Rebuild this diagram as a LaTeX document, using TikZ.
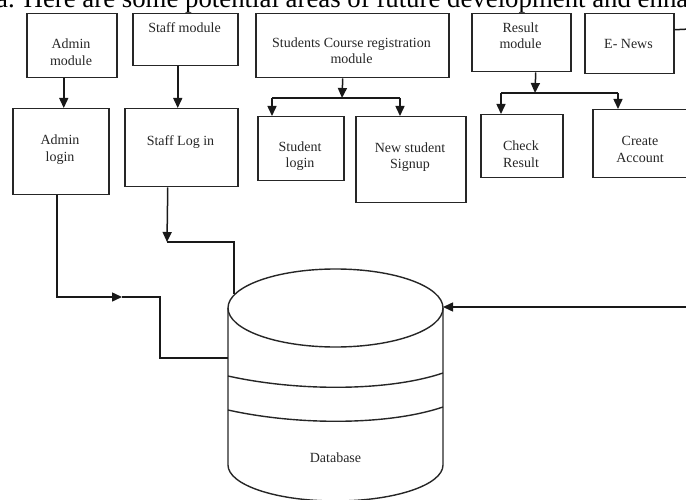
\documentclass[tikz,border=0pt]{standalone}
\usepackage{fontspec}
\setmainfont{Liberation Serif}
\usetikzlibrary{arrows.meta,calc}
\begin{document}
\begin{tikzpicture}[x=1pt,y=-1pt,
  box/.style={draw=black!85, line width=1.5pt, inner sep=0pt, anchor=north west},
  lbl/.style={font=\fontsize{14}{16.5}\selectfont, align=center, text=black!85, inner sep=0pt},
  conn/.style={draw=black!90, line width=1.5pt},
  arr/.style={conn, -{Triangle[width=9pt,length=10pt]}},
  cyl/.style={draw=black!85, line width=1.4pt},
]
\path[use as bounding box] (0,0) rectangle (686,500);
\clip (0,0) rectangle (686,500);

% cut-off line of page text at the top
\node[anchor=base west, font=\fontsize{26.8}{30}\selectfont, inner sep=0pt, text=black] (hdr) at (-4,8) {a. Here are some potential areas of future development and enha};

% top row boxes
\node[box, minimum width=90pt,  minimum height=64pt] (am)  at (26,13)  {};
\node[box, minimum width=105pt, minimum height=52pt] (sm)  at (132,13) {};
\node[box, minimum width=193pt, minimum height=64pt] (scm) at (255,13) {};
\node[box, minimum width=99pt,  minimum height=58pt] (rm)  at (471,13) {};
\node[box, minimum width=89pt,  minimum height=60pt] (en)  at (584,13) {};
% second row boxes
\node[box, minimum width=96pt,  minimum height=86pt] (al)  at (12,108)  {};
\node[box, minimum width=113pt, minimum height=78pt] (sl)  at (124,108) {};
\node[box, minimum width=86pt,  minimum height=64pt] (stl) at (257,116) {};
\node[box, minimum width=110pt, minimum height=86pt] (ns)  at (355,116) {};
\node[box, minimum width=82pt,  minimum height=63pt] (cr)  at (480,114) {};
\node[box, minimum width=98pt,  minimum height=68pt] (ca)  at (592,109) {};

% texts
\node[lbl] (amt)  at (71,52)    {Admin\\module};
\node[lbl] (smt)  at (184.5,27.5) {Staff module};
\node[lbl] (scmt) at (351.5,50.5) {Students Course registration\\module};
\node[lbl] (rmt)  at (520.5,35.5) {Result\\module};
\node[lbl] (ent)  at (628.5,43.5) {E- News};
\node[lbl] (alt)  at (60,149.5) {Admin\\login};
\node[lbl] (slt)  at (180.5,142.5) {Staff Log in};
\node[lbl] (stlt) at (300,156) {Student\\login};
\node[lbl] (nst)  at (410,157) {New student\\Signup};
\node[lbl] (crt)  at (521,154) {Check\\Result};
\node[lbl] (cat)  at (640,149.5) {Create\\Account};

% database cylinder
\coordinate (dbtl) at (228,308);
\coordinate (dbtr) at (443,308);
\coordinate (dbbl) at (228,465);
\coordinate (dbbr) at (443,465);
\draw[cyl] (335.5,308) ellipse [x radius=107.5pt, y radius=39pt];
\draw[cyl] (dbtl) -- (dbbl) arc[start angle=180, end angle=360, x radius=107.5pt, y radius=36pt] -- (dbtr);
\draw[cyl] (228,376) .. controls (300,392) and (390,391) .. (443,373);
\draw[cyl] (228,410) .. controls (300,426) and (390,425) .. (443,407);
\node[lbl] (db) at (335.5,457.5) {Database};

% junction coordinates
\coordinate (sj)  at (342,98);
\coordinate (sjl) at (272,98);
\coordinate (sjr) at (400,98);
\coordinate (rj)  at (535,93);
\coordinate (rjl) at (501,93);
\coordinate (rjr) at (618,93);
\coordinate (amid) at (122,297);
\coordinate (a2)  at (160,297);
\coordinate (dbl) at (228,358);
\coordinate (s1)  at (167,242);
\coordinate (s2)  at (234,294);
\coordinate (r0)  at (690,307);
\coordinate (dbr) at (443,307);
\coordinate (e1)  at (690,29);

% connectors
\draw[arr] ([xshift=-8pt]am.south) -- ([xshift=-8pt]am.south |- al.north);
\draw[arr] ([xshift=-7.5pt]sm.south) -- ([xshift=-7.5pt]sm.south |- sl.north);
\draw[arr] ([xshift=-9.5pt]scm.south) -- (sj);
\draw[conn] (sjl) -- (sjr);
\draw[arr] (sjl) -- (sjl |- stl.north);
\draw[arr] (sjr) -- (sjr |- ns.north);
\draw[arr] ([xshift=14.5pt]rm.south) -- (rj);
\draw[conn] (rjl) -- (rjr);
\draw[arr] (rjl) -- (rjl |- cr.north);
\draw[arr] (rjr) -- (rjr |- ca.north);
\draw[conn] ([yshift=14pt]en.east) -- (e1);

\draw[arr] ([xshift=-4pt]al.south) |- (amid);
\draw[conn] (amid) -- (a2) |- (dbl);
\draw[arr] ([xshift=-13.5pt]sl.south) -- (s1);
\draw[conn] (s1) -| (s2);
\draw[arr] (r0) -- (dbr);
\end{tikzpicture}
\end{document}
